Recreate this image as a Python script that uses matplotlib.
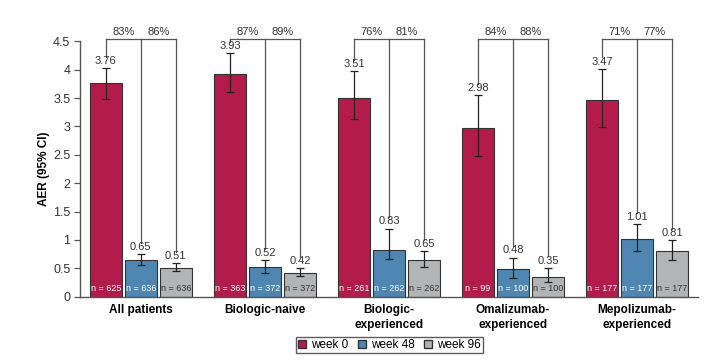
import matplotlib
matplotlib.use("Agg")
import matplotlib.pyplot as plt
from matplotlib.patches import Patch
import numpy as np

plt.rcParams['font.family'] = ['Liberation Sans', 'DejaVu Sans']

groups = ["All patients", "Biologic-naive", "Biologic-\nexperienced",
          "Omalizumab-\nexperienced", "Mepolizumab-\nexperienced"]
series = ["week 0", "week 48", "week 96"]
colors = ["#b31b4b", "#4f86b1", "#b3b4b6"]

aer = [[3.76, 3.93, 3.51, 2.98, 3.47],
       [0.65, 0.52, 0.83, 0.48, 1.01],
       [0.51, 0.42, 0.65, 0.35, 0.81]]
ci_lo = [[3.49, 3.61, 3.13, 2.48, 2.99],
         [0.55, 0.42, 0.66, 0.33, 0.80],
         [0.45, 0.36, 0.53, 0.25, 0.64]]
ci_hi = [[4.03, 4.29, 3.97, 3.55, 4.02],
         [0.75, 0.64, 1.20, 0.69, 1.28],
         [0.59, 0.50, 0.80, 0.51, 1.00]]
n_pat = [[625, 363, 261, 99, 177],
         [636, 372, 262, 100, 177],
         [636, 372, 262, 100, 177]]
reduction = [[83, 87, 76, 84, 71],
             [86, 89, 81, 88, 77]]

fig = plt.figure(figsize=(7.21, 3.6), dpi=100)
ax = fig.add_axes([0.111, 0.176, 0.857, 0.709])

x = np.arange(len(groups))
step = 0.282
width = 0.258
line_col = "#555555"

for s in range(3):
    xs = x + (s - 1) * step
    ax.bar(xs, aer[s], width, color=colors[s], edgecolor="#333333",
           linewidth=0.8, label=series[s], zorder=2)
    yerr = [np.array(aer[s]) - np.array(ci_lo[s]),
            np.array(ci_hi[s]) - np.array(aer[s])]
    ax.errorbar(xs, aer[s], yerr=yerr, fmt="none", ecolor="#222222",
                elinewidth=0.9, capsize=3, capthick=0.9, zorder=3)
    for i in range(len(groups)):
        ax.annotate(f"{aer[s][i]:.2f}", (xs[i], ci_hi[s][i]),
                    xytext=(0, 1.5), textcoords="offset points",
                    ha="center", va="bottom", fontsize=8, color="#333333")
        ax.text(xs[i], 0.07, f"n = {n_pat[s][i]}", ha="center", va="bottom",
                fontsize=6.5, color="white" if s < 2 else "#333333", zorder=4)

# brackets with reduction percentages
top = 4.55
for i in range(len(groups)):
    xs = [x[i] + (s - 1) * step for s in range(3)]
    ax.plot([xs[0], xs[2]], [top, top], color=line_col, lw=0.9,
            clip_on=False, zorder=1)
    for s in range(3):
        ax.plot([xs[s], xs[s]], [ci_hi[s][i] + 0.2, top], color=line_col,
                lw=0.9, clip_on=False, zorder=1)
    for k in range(2):
        ax.text((xs[k] + xs[k + 1]) / 2, top + 0.03, f"{reduction[k][i]}%",
                ha="center", va="bottom", fontsize=8, color="#333333")

ax.set_xlim(-0.49, 4.49)
ax.set_ylim(0, 4.5)
ax.set_yticks(np.arange(0, 4.51, 0.5))
ax.set_yticklabels(["0", "0.5", "1", "1.5", "2", "2.5", "3", "3.5", "4", "4.5"])
ax.set_xticks(x)
ax.set_xticklabels(groups, fontweight="bold", fontsize=8.5, linespacing=1.35)
ax.tick_params(axis="x", length=0, pad=5)
ax.tick_params(axis="y", length=4, width=0.9, color=line_col, labelsize=9,
               labelcolor="#333333", pad=3)
for side in ["top", "right"]:
    ax.spines[side].set_visible(False)
for side in ["left", "bottom"]:
    ax.spines[side].set_color(line_col)
    ax.spines[side].set_linewidth(1.0)
ax.set_ylabel("AER (95% CI)", fontweight="bold", fontsize=8.5, labelpad=2)

handles = [Patch(facecolor=colors[s], edgecolor="#333333", label=series[s])
           for s in range(3)]
fig.legend(handles=handles, loc="center", bbox_to_anchor=(0.54, 0.042),
           ncol=3, fontsize=8.5, frameon=True, fancybox=False,
           edgecolor="#333333", handlelength=0.7, handleheight=0.7,
           handletextpad=0.4, columnspacing=0.8, borderpad=0.2)

fig.savefig("out.png", dpi=100)
